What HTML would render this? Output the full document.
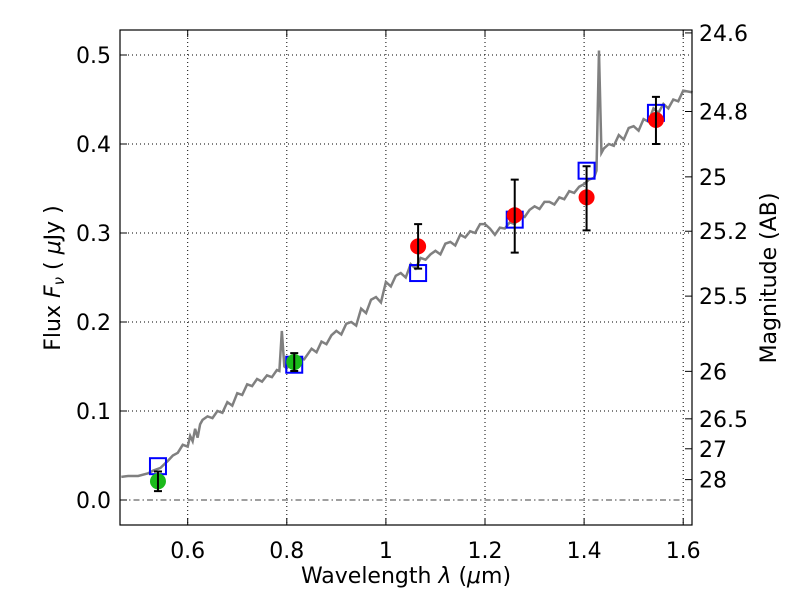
<!DOCTYPE html>
<html><head><meta charset="utf-8"><style>
body{margin:0;background:#fff;width:800px;height:600px;overflow:hidden}
text{font-family:"DejaVu Sans","Liberation Sans",sans-serif;fill:#000}
</style></head><body>
<svg id="c" width="800" height="600" xmlns="http://www.w3.org/2000/svg"></svg>
<script>
const specX=[0.466,0.48,0.5,0.52,0.53,0.545,0.56,0.57,0.58,0.59,0.6,0.605,0.61,0.615,0.62,0.625,0.63,0.64,0.65,0.66,0.67,0.68,0.69,0.7,0.71,0.72,0.73,0.74,0.75,0.76,0.77,0.78,0.785,0.79,0.795,0.8,0.81,0.82,0.835,0.85,0.86,0.87,0.88,0.89,0.9,0.91,0.92,0.93,0.94,0.95,0.96,0.97,0.98,0.99,1.0,1.01,1.02,1.03,1.04,1.05,1.06,1.07,1.08,1.09,1.1,1.11,1.12,1.13,1.14,1.15,1.16,1.17,1.18,1.19,1.2,1.21,1.22,1.23,1.24,1.25,1.26,1.27,1.28,1.29,1.3,1.31,1.32,1.33,1.34,1.35,1.36,1.37,1.38,1.39,1.4,1.41,1.42,1.425,1.43,1.435,1.44,1.45,1.46,1.47,1.48,1.49,1.5,1.51,1.52,1.53,1.54,1.55,1.56,1.57,1.58,1.59,1.6,1.619];
const specY=[0.026,0.027,0.027,0.03,0.033,0.036,0.044,0.05,0.053,0.062,0.06,0.072,0.066,0.08,0.07,0.085,0.09,0.094,0.092,0.1,0.098,0.11,0.106,0.12,0.118,0.13,0.128,0.136,0.133,0.14,0.138,0.146,0.145,0.19,0.15,0.148,0.155,0.16,0.158,0.17,0.166,0.178,0.175,0.185,0.19,0.186,0.198,0.2,0.196,0.215,0.21,0.225,0.228,0.222,0.245,0.24,0.252,0.255,0.25,0.265,0.26,0.272,0.27,0.276,0.28,0.276,0.288,0.29,0.286,0.298,0.295,0.302,0.3,0.31,0.31,0.305,0.298,0.306,0.305,0.312,0.31,0.32,0.318,0.326,0.33,0.327,0.335,0.335,0.332,0.34,0.338,0.347,0.345,0.352,0.355,0.36,0.362,0.37,0.505,0.39,0.395,0.4,0.398,0.41,0.405,0.418,0.42,0.415,0.428,0.425,0.44,0.435,0.445,0.44,0.45,0.448,0.46,0.458];
const photX=[0.54,0.815,1.065,1.26,1.405,1.545];
const photY=[0.021,0.155,0.285,0.32,0.34,0.427];
const photLo=[0.01,0.145,0.26,0.278,0.303,0.40];
const photHi=[0.032,0.165,0.31,0.36,0.375,0.453];
const photColor=['#1aba1a','#1aba1a','red','red','red','red'];
const modelY=[0.038,0.152,0.255,0.315,0.37,0.435];
const xTicks=[0.6,0.8,1.0,1.2,1.4,1.6];
const xTickLabels=['0.6','0.8','1','1.2','1.4','1.6'];
const yTicks=[0,0.1,0.2,0.3,0.4,0.5];
const yTickLabels=['0.0','0.1','0.2','0.3','0.4','0.5'];
const magTicks=[24.6,24.8,25,25.2,25.5,26,26.5,27,28];
const magTickLabels=['24.6','24.8','25','25.2','25.5','26','26.5','27','28'];

const L=120,R=692,T=30,B=525;
const X=v=>187.7+(v-0.6)*495.5;
const Y=v=>500-v*890;
const svg=document.getElementById('c');
const NS='http://www.w3.org/2000/svg';
function mk(tag,at,parent){const e=document.createElementNS(NS,tag);for(const k in at)e.setAttribute(k,at[k]);(parent||svg).appendChild(e);return e;}

xTicks.forEach((v,i)=>{
  const g=mk('line',{x1:X(v),x2:X(v),y1:T,y2:B,stroke:'#000','stroke-width':1,'stroke-dasharray':'1,3'});
  
  
  mk('line',{x1:X(v),x2:X(v),y1:B,y2:B-7,stroke:'#000'});
  mk('line',{x1:X(v),x2:X(v),y1:T,y2:T+7,stroke:'#000'});
  const t=mk('text',{x:X(v),y:B+33,'text-anchor':'middle','font-size':22});
  t.textContent=xTickLabels[i];
  
  
});
yTicks.forEach((v,i)=>{
  if(v>0){const g=mk('line',{x1:L,x2:R,y1:Y(v),y2:Y(v),stroke:'#000','stroke-width':1,'stroke-dasharray':'1,3'});
  
  }
  mk('line',{x1:L,x2:L+7,y1:Y(v),y2:Y(v),stroke:'#000'});
  const t=mk('text',{x:L-9,y:Y(v)+8,'text-anchor':'end','font-size':22});
  t.textContent=yTickLabels[i];
  
  
});
const z=mk('line',{x1:L,x2:R,y1:Y(0),y2:Y(0),stroke:'#000','stroke-width':0.8,'stroke-dasharray':'6,3,1.5,3'});


magTicks.forEach((m,i)=>{
  const y=Y(Math.pow(10,(23.9-m)/2.5));
  mk('line',{x1:R,x2:R-7,y1:y,y2:y,stroke:'#000'});
  const t=mk('text',{x:R+7,y:y+8,'font-size':22});
  t.textContent=magTickLabels[i];
  
  
});
const sp=mk('polyline',{points:specX.map((x,i)=>X(x)+','+Y(specY[i])).join(' '),fill:'none',stroke:'#808080','stroke-width':2.5});


photX.forEach((x,i)=>{
  const s=mk('rect',{x:X(x)-8,y:Y(modelY[i])-8,width:16,height:16,fill:'none',stroke:'#0000ff','stroke-width':2});
  
  
});
photX.forEach((x,i)=>{
  const c=mk('circle',{cx:X(x),cy:Y(photY[i]),r:8,fill:photColor[i]});
  
  
  const e=mk('path',{d:`M${X(x)},${Y(photLo[i])}V${Y(photHi[i])}M${X(x)-4},${Y(photLo[i])}h8M${X(x)-4},${Y(photHi[i])}h8`,stroke:'#000','stroke-width':2,fill:'none'});
  
  
});
const fr=mk('rect',{x:L,y:T,width:R-L,height:B-T,fill:'none',stroke:'#000','stroke-width':1.2});


const xl=mk('text',{x:406,y:583,'text-anchor':'middle','font-size':22});
xl.innerHTML='Wavelength  <tspan font-style="italic">λ</tspan> (<tspan font-style="italic">μ</tspan>m)';


const yl=mk('text',{x:0,y:0,'text-anchor':'middle','font-size':22,transform:'translate(60,278) rotate(-90)'});
yl.innerHTML='Flux  <tspan font-style="italic">F</tspan><tspan font-style="italic" font-size="15" dy="4">ν</tspan><tspan dy="-4">  ( </tspan><tspan font-style="italic">μ</tspan>Jy )';


const ml=mk('text',{x:0,y:0,'text-anchor':'middle','font-size':22,transform:'translate(776,278) rotate(-90)'});
ml.textContent='Magnitude (AB)';


</script>
</body></html>
